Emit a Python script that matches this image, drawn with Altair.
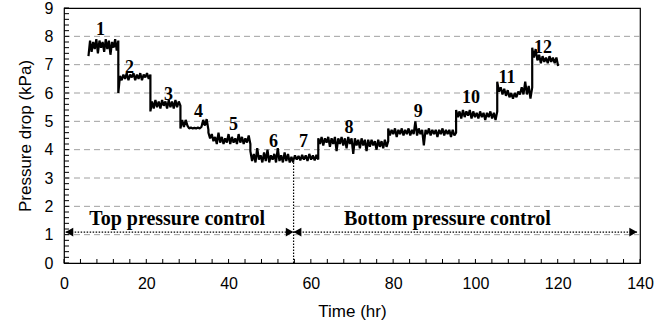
import altair as alt
import numpy as np
import pandas as pd

# Start/end time (hr) of each operating step
step_bounds = [5.95, 13.2, 21.0, 28.3, 35.1, 45.3, 55.7, 61.8, 78.8, 95.3, 105.3, 113.8, 120.1]

# Pressure-drop readings (kPa) within each step
step1 = [7.30, 7.85, 7.45, 7.80, 7.55, 7.90, 7.40, 7.85, 7.60, 7.80, 7.45, 7.90, 7.55, 7.85, 7.35, 7.80, 7.60, 7.90, 7.50, 7.85]
step2 = [6.00, 6.60, 6.45, 6.65, 6.50, 6.70, 6.45, 6.65, 6.55, 6.70, 6.45, 6.65, 6.50, 6.70, 6.45, 6.65, 6.55, 6.70, 6.50, 6.65]
step3 = [5.35, 5.70, 5.45, 5.75, 5.50, 5.70, 5.45, 5.75, 5.55, 5.70, 5.45, 5.75, 5.50, 5.70, 5.45, 5.75, 5.50, 5.70, 5.55]
step4 = [4.75, 5.05, 4.80, 5.05, 4.85, 4.75, 4.78, 4.75, 4.77, 4.75, 4.78, 4.75, 4.80, 5.05, 4.85, 5.08, 4.70]
step5 = [4.60, 4.40, 4.55, 4.30, 4.45, 4.20, 4.60, 4.25, 4.45, 4.20, 4.40, 4.25, 4.55, 4.20, 4.45, 4.25,
         4.40, 4.20, 4.55, 4.25, 4.45, 4.20, 4.40, 4.25, 4.50, 4.20]
step6 = [3.95, 3.60, 3.85, 3.55, 4.05, 3.65, 3.80, 3.55, 3.90, 3.60, 4.00, 3.55, 3.80, 3.65, 3.85, 3.55,
         4.05, 3.60, 3.80, 3.55, 3.90, 3.60, 3.85, 3.55, 3.75, 3.55]
step7 = [3.60, 3.80, 3.65, 3.78, 3.62, 3.82, 3.65, 3.80, 3.60, 3.85, 3.65, 3.80, 3.62, 3.82, 3.65]
step8 = [4.40, 4.20, 4.45, 4.15, 4.40, 4.25, 4.45, 4.10, 4.40, 4.20, 4.45, 3.95, 4.40, 4.20, 4.45, 4.15,
         4.40, 4.05, 4.45, 4.20, 4.40, 3.85, 4.40, 4.15, 4.35, 4.05, 4.40, 4.15, 4.35, 3.95, 4.35, 4.10,
         4.35, 4.15, 4.30, 4.00, 4.35, 4.10, 4.30, 4.05, 4.35, 4.10, 4.30]
step9 = [4.75, 4.50, 4.70, 4.55, 4.75, 4.45, 4.70, 4.55, 4.75, 4.50, 4.70, 4.55, 4.75, 4.50, 4.70, 4.55,
         5.00, 4.50, 4.75, 4.55, 4.70, 4.15, 4.70, 4.55, 4.75, 4.50, 4.70, 4.55, 4.70, 4.45, 4.70, 4.55,
         4.75, 4.50, 4.70, 4.55, 4.70, 4.45, 4.70, 4.50, 4.60]
step10 = [5.40, 5.15, 5.35, 5.10, 5.40, 5.15, 5.35, 5.20, 5.40, 5.10, 5.35, 5.15, 5.30, 5.10, 5.35, 5.15,
          5.30, 5.05, 5.30, 5.15, 5.35, 5.10, 5.30, 5.05, 5.35]
step11 = [6.40, 6.05, 6.20, 5.95, 6.15, 5.90, 6.10, 5.85, 6.00, 5.80, 6.00, 5.85, 6.05, 5.95, 6.20, 5.95,
          6.40, 5.95, 6.25, 5.80, 6.20]
step12 = [7.60, 7.25, 7.55, 7.15, 7.35, 7.05, 7.30, 7.10, 7.25, 7.05, 7.30, 7.10, 7.25, 7.05, 7.25, 6.95]
steps = [step1, step2, step3, step4, step5, step6, step7, step8, step9, step10, step11, step12]

# Step number labels (text, time, pressure)
step_labels = ["1", "2", "3", "4", "5", "6", "7", "8", "9", "10", "11", "12"]
label_t = [8.86, 15.9, 25.4, 32.7, 41.2, 50.9, 58.2, 69.3, 86.1, 98.9, 107.7, 116.4]
label_y = [8.05, 6.71, 5.75, 5.15, 4.69, 4.09, 4.09, 4.59, 5.15, 5.65, 6.35, 7.41]

# Control regimes
phase_names = ["Top pressure control", "Bottom pressure control"]
phase_t = [27.5, 93.2]
phase_y = [1.34, 1.34]
switch_t = 55.8
switch_top = 3.55
arrow_y = 1.09
shaft_start = [0.4, 55.8]
shaft_end = [55.8, 139.3]
head_t = [1.3, 54.85, 56.75, 138.35]
head_shape = ["triangle-left", "triangle-right", "triangle-left", "triangle-right"]

# Axis ticks and gridlines
x_labels = [0, 20, 40, 60, 80, 100, 120, 140]
x_ticks = list(range(0, 141, 4))
y_labels = list(range(0, 10))
y_ticks = [i / 5 for i in range(0, 46)]
grid_y = [1, 2, 3, 4, 5, 6, 7, 8]

W, H = 576, 255

rows = []
k = 0
for s, vals in enumerate(steps):
    t0, t1 = step_bounds[s], step_bounds[s + 1]
    ts = np.linspace(t0, t1, len(vals))
    for t, v in zip(ts, vals):
        rows.append({"t": float(t), "p": v, "i": k})
        k += 1
series = pd.DataFrame(rows)

xscale = alt.Scale(domain=[0, 140], nice=False, zero=False)
yscale = alt.Scale(domain=[0, 9], nice=False, zero=False)
AXFONT = "Liberation Sans"

xaxis = alt.Axis(values=x_labels, title="Time (hr)", grid=False, ticks=False, domain=False,
                 labelFont=AXFONT, labelFontSize=16, labelColor="black", labelPadding=12,
                 labelFlush=False, labelOverlap=False,
                 titleFont=AXFONT, titleFontSize=17, titleFontWeight="normal", titleColor="black",
                 titlePadding=12, format="d")
yaxis = alt.Axis(values=y_labels, title="Pressure drop (kPa)", grid=False, ticks=False, domain=False,
                 labelFont=AXFONT, labelFontSize=16, labelColor="black", labelPadding=11,
                 labelFlush=False, labelOverlap=False,
                 titleFont=AXFONT, titleFontSize=17, titleFontWeight="normal", titleColor="black",
                 titlePadding=10, format="d")


def X(field):
    return alt.X(field, type="quantitative", scale=xscale, axis=xaxis)


def Y(field):
    return alt.Y(field, type="quantitative", scale=yscale, axis=yaxis)


grid = alt.Chart(pd.DataFrame({"g": grid_y})).mark_rule(
    color="#a0a0a0", strokeWidth=1, strokeDash=[6, 4]
).encode(y=Y("g"))

line = alt.Chart(series).mark_line(color="black", strokeWidth=2.2, strokeJoin="bevel").encode(
    x=X("t"), y=Y("p"), order=alt.Order("i:Q")
)

xt = alt.Chart(pd.DataFrame({"t": x_ticks})).mark_rule(color="black", strokeWidth=1).encode(
    x=X("t"), y=alt.value(H), y2=alt.value(H - 4)
)
yt = alt.Chart(pd.DataFrame({"p": y_ticks})).mark_rule(color="black", strokeWidth=1).encode(
    y=Y("p"), x=alt.value(0), x2=alt.value(5)
)

divider = alt.Chart(pd.DataFrame({"t": [switch_t], "a": [0], "b": [switch_top]})).mark_rule(
    color="black", strokeWidth=1.2, strokeDash=[1.5, 1.5]
).encode(x=X("t"), y=Y("a"), y2="b")

shafts = alt.Chart(pd.DataFrame({"a": shaft_start, "b": shaft_end, "p": [arrow_y] * 2})).mark_rule(
    color="black", strokeWidth=1.2, strokeDash=[1.5, 1.5]
).encode(x=X("a"), x2="b", y=Y("p"))

heads = alt.Chart(pd.DataFrame({"t": head_t, "p": [arrow_y] * 4, "s": head_shape})).mark_point(
    filled=True, color="black", opacity=1, size=80
).encode(x=X("t"), y=Y("p"), shape=alt.Shape("s:N", scale=None, legend=None))

nums = alt.Chart(pd.DataFrame({"t": label_t, "p": label_y, "txt": step_labels})).mark_text(
    font="Liberation Serif", fontWeight="bold", fontSize=18, baseline="alphabetic", align="center",
    color="black"
).encode(x=X("t"), y=Y("p"), text="txt:N")

phases = alt.Chart(pd.DataFrame({"t": phase_t, "p": phase_y, "txt": phase_names})).mark_text(
    font="Liberation Serif", fontWeight="bold", fontSize=20, baseline="alphabetic", align="center",
    color="black"
).encode(x=X("t"), y=Y("p"), text="txt:N")

chart = alt.layer(grid, xt, yt, divider, shafts, heads, line, nums, phases).properties(
    width=W, height=H, autosize="none",
    padding={"left": 64, "top": 8, "right": 29, "bottom": 70},
    background="white",
).configure_view(stroke="black", strokeWidth=1.2)

chart.save("out.html", embed_options={"renderer": "svg", "actions": False})
